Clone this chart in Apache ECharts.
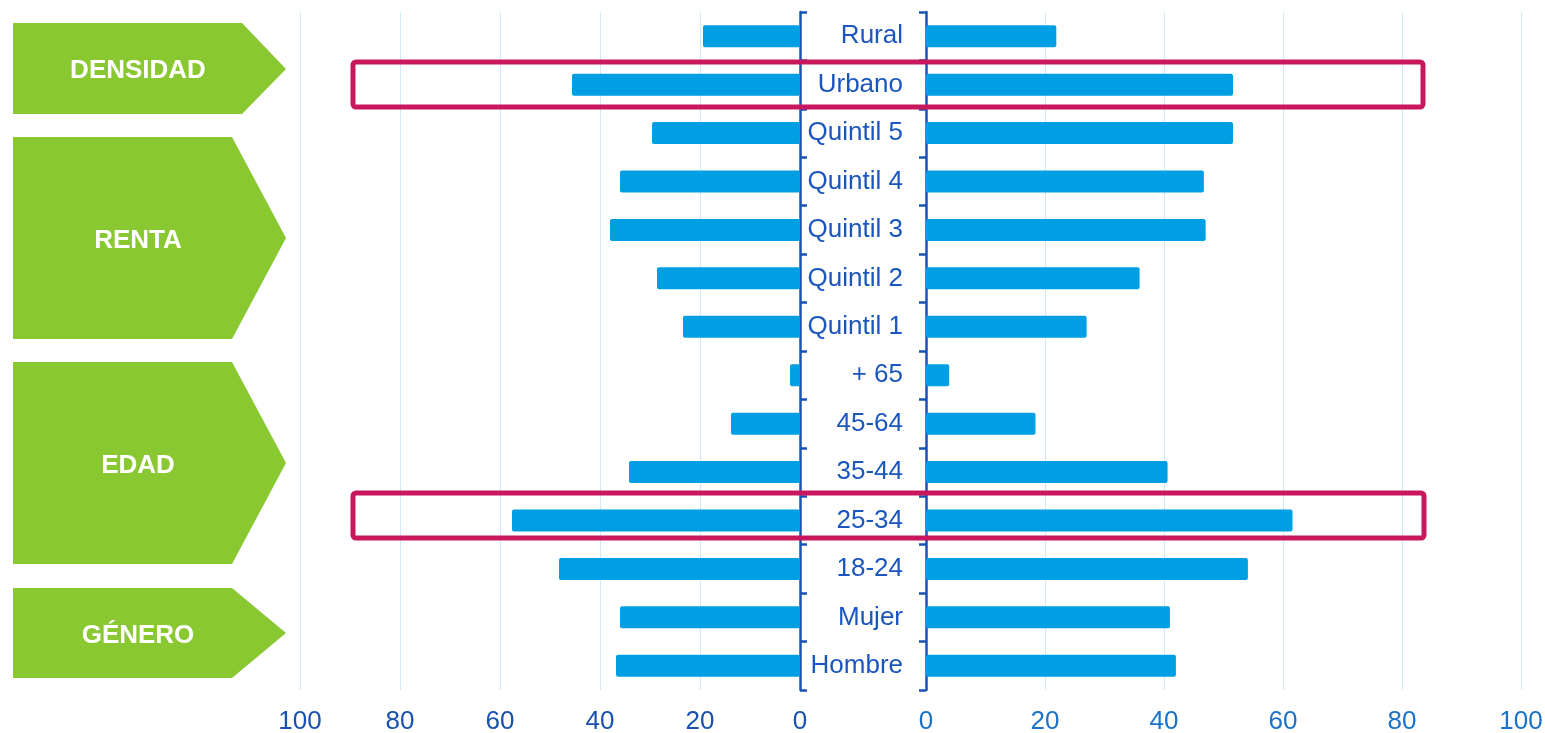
<!DOCTYPE html>
<html>
<head>
<meta charset="utf-8">
<script src="https://cdn.jsdelivr.net/npm/echarts@6/dist/echarts.min.js"></script>
<style>
html, body { margin: 0; padding: 0; background: #fff; }
#chart { width: 1545px; height: 733px; }
</style>
</head>
<body>
<div id="chart"></div>
<script>
// categorias de arriba a abajo
const categories = ['Rural', 'Urbano', 'Quintil 5', 'Quintil 4', 'Quintil 3', 'Quintil 2', 'Quintil 1',
    '+ 65', '45-64', '35-44', '25-34', '18-24', 'Mujer', 'Hombre'];
const leftValues = [19.4, 45.6, 29.6, 36, 38, 28.6, 23.4, 2, 13.8, 34.2, 57.6, 48.2, 36, 36.8];
const rightValues = [21.9, 51.6, 51.6, 46.7, 47, 35.9, 27, 3.9, 18.4, 40.6, 61.6, 54.1, 41, 42];
const groups = ['DENSIDAD', 'RENTA', 'EDAD', 'GÉNERO'];

const barColor = '#009fe3';
const axisBlue = '#1a52b2';
const gridBlue = '#cdeaf7';
const green = '#8ac831';
const magenta = '#c8175c';
const font = "'Liberation Sans', Arial, sans-serif";

const chart = echarts.init(document.getElementById('chart'));

// flechas verdes (decoracion)
const arrows = [
    [[13, 23], [242, 23], [286, 69], [242, 114], [13, 114]],
    [[13, 137], [232, 137], [286, 238], [232, 339], [13, 339]],
    [[13, 362], [232, 362], [286, 463], [232, 564], [13, 564]],
    [[13, 588], [232, 588], [286, 633], [232, 678], [13, 678]]
];
const arrowLabelY = [71, 241, 466, 636];

const graphic = [];
arrows.forEach((pts, i) => {
    graphic.push({
        type: 'polygon', shape: { points: pts }, style: { fill: green }, z: 1
    });
    graphic.push({
        type: 'text', x: 138, y: arrowLabelY[i], z: 2,
        style: {
            text: groups[i], fill: '#fff', font: 'bold 26px ' + font,
            textAlign: 'center', textVerticalAlign: 'middle'
        }
    });
});
// recuadros magenta
graphic.push({
    type: 'rect', z: 100, shape: { x: 353, y: 62, width: 1070, height: 45, r: 3 },
    style: { fill: 'none', stroke: magenta, lineWidth: 5 }
});
graphic.push({
    type: 'rect', z: 100, shape: { x: 353, y: 493, width: 1071, height: 45, r: 3 },
    style: { fill: 'none', stroke: magenta, lineWidth: 5 }
});

const option = {
    animation: false,
    backgroundColor: '#fff',
    grid: [
        { left: 300, width: 500, top: 12, height: 678, outerBoundsMode: 'none' },
        { left: 926, width: 595, top: 12, height: 678, outerBoundsMode: 'none' }
    ],
    xAxis: [
        {
            gridIndex: 0, type: 'value', inverse: true, min: 0, max: 100, interval: 20,
            axisLine: { show: false }, axisTick: { show: false },
            splitLine: { lineStyle: { color: gridBlue, width: 1 } },
            axisLabel: { color: '#1a50ae', fontSize: 26, fontFamily: font, margin: 19 }
        },
        {
            gridIndex: 1, type: 'value', min: 0, max: 100, interval: 20,
            axisLine: { show: false }, axisTick: { show: false },
            splitLine: { lineStyle: { color: gridBlue, width: 1 } },
            axisLabel: { color: '#1b72c6', fontSize: 26, fontFamily: font, margin: 19 }
        }
    ],
    yAxis: [
        {
            gridIndex: 0, type: 'category', data: categories, inverse: true, position: 'right',
            axisLine: { show: true, lineStyle: { color: axisBlue, width: 2.5 } },
            axisTick: { show: true, length: 7, lineStyle: { color: axisBlue, width: 2.5 } },
            axisLabel: {
                color: '#1a56be', fontSize: 26, fontFamily: font,
                align: 'right', margin: 103, padding: [7, 0, 0, 0]
            }
        },
        {
            gridIndex: 1, type: 'category', data: categories, inverse: true, position: 'left',
            axisLine: { show: true, lineStyle: { color: axisBlue, width: 2.5 } },
            axisTick: { show: true, length: 7, lineStyle: { color: axisBlue, width: 2.5 } },
            axisLabel: { show: false }
        }
    ],
    series: [
        {
            type: 'bar', xAxisIndex: 0, yAxisIndex: 0, data: leftValues,
            barWidth: 22, itemStyle: { color: barColor, borderRadius: 2 }, z: 2
        },
        {
            type: 'bar', xAxisIndex: 1, yAxisIndex: 1, data: rightValues,
            barWidth: 22, itemStyle: { color: barColor, borderRadius: 2 }, z: 2
        }
    ],
    graphic: graphic
};

chart.setOption(option);
</script>
</body>
</html>
